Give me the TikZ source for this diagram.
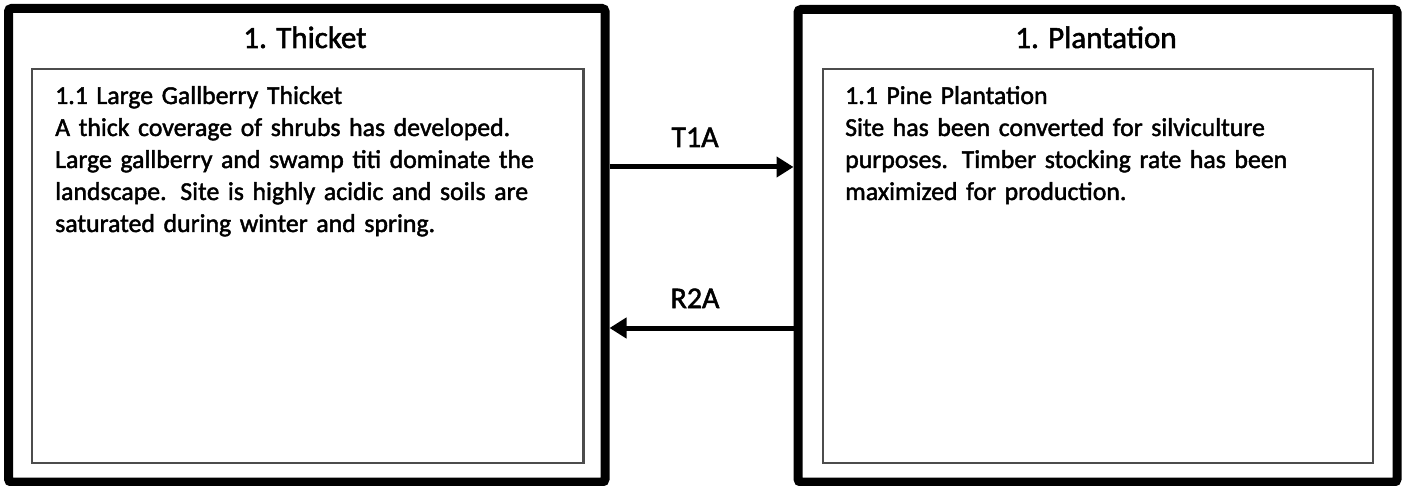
\documentclass[tikz,border=0pt]{standalone}
\usepackage{fontspec}
\setmainfont{Carlito}[FakeBold=1.7]
\usetikzlibrary{arrows.meta}
\tikzset{
  card/.style={draw=black, line width=9pt, rounded corners=3pt, inner sep=0pt},
  innerbox/.style={draw=black!70, line width=2.7pt, inner sep=0pt},
  cardtitle/.style={font=\fontsize{31}{36}\selectfont, anchor=base, inner sep=0pt},
  bodytext/.style={font=\fontsize{25.8}{32}\selectfont, anchor=base west, inner sep=0pt, text width=530pt, align=left},
  trans/.style={line width=5pt, -{Triangle[length=17pt,width=20pt]}},
  translabel/.style={font=\fontsize{30}{36}\selectfont, anchor=base, inner sep=0pt}
}
\begin{document}
\begin{tikzpicture}[x=1pt,y=-1pt]
\useasboundingbox (0,0) rectangle (1404,486);
% cards
\node[card, minimum width=596.5pt, minimum height=473.5pt] (lc) at (306.75,245.25) {};
\node[card, minimum width=599pt, minimum height=472.5pt] (rc) at (1097.5,245.75) {};
% inner boxes
\node[innerbox, minimum width=551.5pt, minimum height=394pt] (li) at (307.75,266) {};
\node[innerbox, minimum width=550pt, minimum height=394pt] (ri) at (1098,266) {};
% titles
\node[cardtitle] (lt) at (305,48) {1. Thicket};
\node[cardtitle] (rt) at (1096,48) {1. Plantation};
% body texts
\node[bodytext] (ltext) at (55,104) {1.1 Large Gallberry Thicket\\
A thick coverage of shrubs has developed.\\
Large gallberry and swamp titi dominate the\\
landscape.\ \hspace{0.2em}Site is highly acidic and soils are\\
saturated during winter and spring.};
\node[bodytext] (rtext) at (845,104) {1.1 Pine Plantation\\
Site has been converted for silviculture\\
purposes.\ \hspace{0.2em}Timber stocking rate has been\\
maximized for production.};
% transitions
\coordinate (t1) at (700,167);
\coordinate (r2) at (700,328);
\draw[trans] (lc.east |- t1) -- (rc.west |- t1);
\draw[trans] (rc.west |- r2) -- (lc.east |- r2);
\node[translabel] (t1a) at (695,147) {T1A};
\node[translabel] (r2a) at (695,308) {R2A};
\end{tikzpicture}
\end{document}
